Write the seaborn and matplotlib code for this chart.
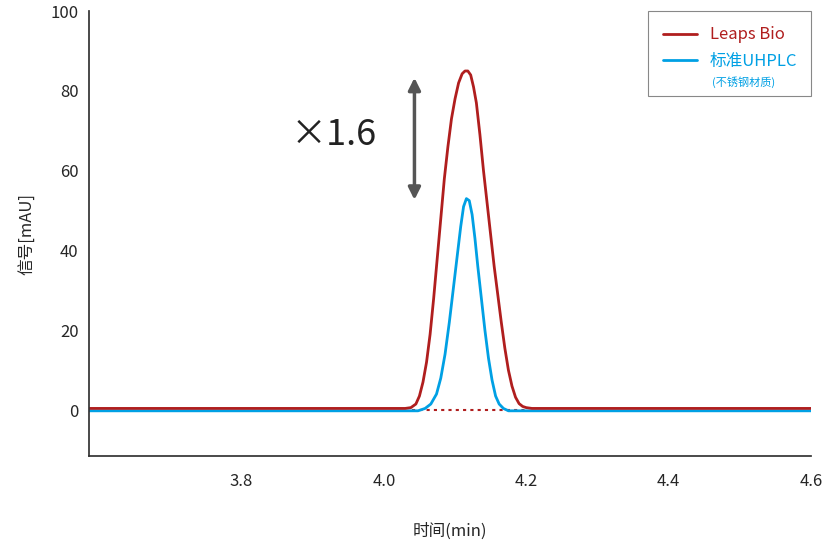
import numpy as np
import pandas as pd
import matplotlib
matplotlib.use("Agg")
import matplotlib.pyplot as plt
import matplotlib.patches as mpatches
import seaborn as sns

sns.set_theme(style="white")
plt.rcParams["font.family"] = ["Noto Sans CJK SC", "DejaVu Sans"]

RED = "#B01E1E"
BLUE = "#00A0E4"

red_x = [3.586, 4.030, 4.038, 4.045, 4.050, 4.055, 4.060, 4.065, 4.070, 4.075, 4.080, 4.085,
         4.090, 4.095, 4.100, 4.105, 4.110, 4.114, 4.118, 4.122, 4.126, 4.130, 4.135,
         4.140, 4.145, 4.150, 4.155, 4.160, 4.165, 4.170, 4.175, 4.180, 4.185, 4.190,
         4.195, 4.200, 4.208, 4.600]
red_y = [0.4, 0.4, 0.6, 1.5, 3.5, 7, 12, 19, 28, 38, 48, 58,
         66, 73, 78, 82, 84.3, 85, 85, 84, 81, 77, 69,
         60, 52, 44, 36, 29, 22, 15.5, 10, 6, 3.2, 1.6,
         0.9, 0.6, 0.4, 0.4]
blue_x = [3.586, 4.048, 4.058, 4.066, 4.074, 4.080, 4.086, 4.092, 4.098, 4.104, 4.108,
          4.112, 4.116, 4.120, 4.124, 4.128, 4.132, 4.137, 4.142, 4.147, 4.152,
          4.157, 4.162, 4.168, 4.175, 4.600]
blue_y = [-0.2, -0.2, 0.4, 1.5, 4, 8, 14, 22, 31, 40, 46,
          51, 53, 52.5, 49, 43, 36, 28, 20, 13, 7.5,
          3.5, 1.5, 0.4, -0.2, -0.2]
dot_x = [4.040, 4.200]
dot_y = [0, 0]

red = pd.DataFrame({"t": red_x, "s": red_y})
blue = pd.DataFrame({"t": blue_x, "s": blue_y})

fig = plt.figure(figsize=(8.25, 5.58), dpi=100)
ax = fig.add_axes([0.108, 0.183, 0.875, 0.797])

ax.plot(dot_x, dot_y, color=RED, lw=1.5, ls=(0, (1.5, 2)))
sns.lineplot(data=blue, x="t", y="s", ax=ax, color=BLUE, lw=2, label="标准UHPLC")
sns.lineplot(data=red, x="t", y="s", ax=ax, color=RED, lw=2, label="Leaps Bio")

ax.set_xlim(3.586, 4.6)
ax.set_ylim(-11.5, 100)
ax.set_xticks([3.8, 4.0, 4.2, 4.4, 4.6])
ax.set_xticklabels(["3.8", "4.0", "4.2", "4.4", "4.6"])
ax.set_yticks([0, 20, 40, 60, 80, 100])
ax.tick_params(labelsize=12, length=4, direction="out", color="#333333")
ax.tick_params(axis="x", pad=8)
for s in ["top", "right"]:
    ax.spines[s].set_visible(False)
for s in ["left", "bottom"]:
    ax.spines[s].set_color("#333333")
ax.set_xlabel("时间(min)", fontsize=12, labelpad=24)
ax.set_ylabel("信号[mAU]", fontsize=12, labelpad=10)

ax.annotate("", xy=(4.043, 84), xytext=(4.043, 52),
            arrowprops=dict(arrowstyle="<|-|>", color="#555555", lw=2.5, mutation_scale=18))
ax.text(3.93, 69, "×1.6", fontsize=26, ha="center", va="center", color="#222222")

# legend box drawn by hand so the sub-caption fits inside
box = mpatches.Rectangle((648 / 825, 1 - 96 / 558), 163 / 825, 85 / 558,
                         transform=fig.transFigure, facecolor="white",
                         edgecolor="#888888", lw=0.8, zorder=5)
fig.patches.append(box)
handles, labels = ax.get_legend_handles_labels()
leg = fig.legend(handles[::-1], labels[::-1], loc="upper left",
                 bbox_to_anchor=(655 / 825, 1 - 18 / 558), fontsize=12, frameon=False,
                 borderpad=0, handlelength=2, handletextpad=0.8, labelspacing=0.55)
for txt, c in zip(leg.get_texts(), [RED, BLUE]):
    txt.set_color(c)
fig.text(712 / 825, 1 - 82 / 558, "(不锈钢材质)", fontsize=8, color=BLUE,
         ha="left", va="center", zorder=6)

fig.savefig("out.png", dpi=100)
